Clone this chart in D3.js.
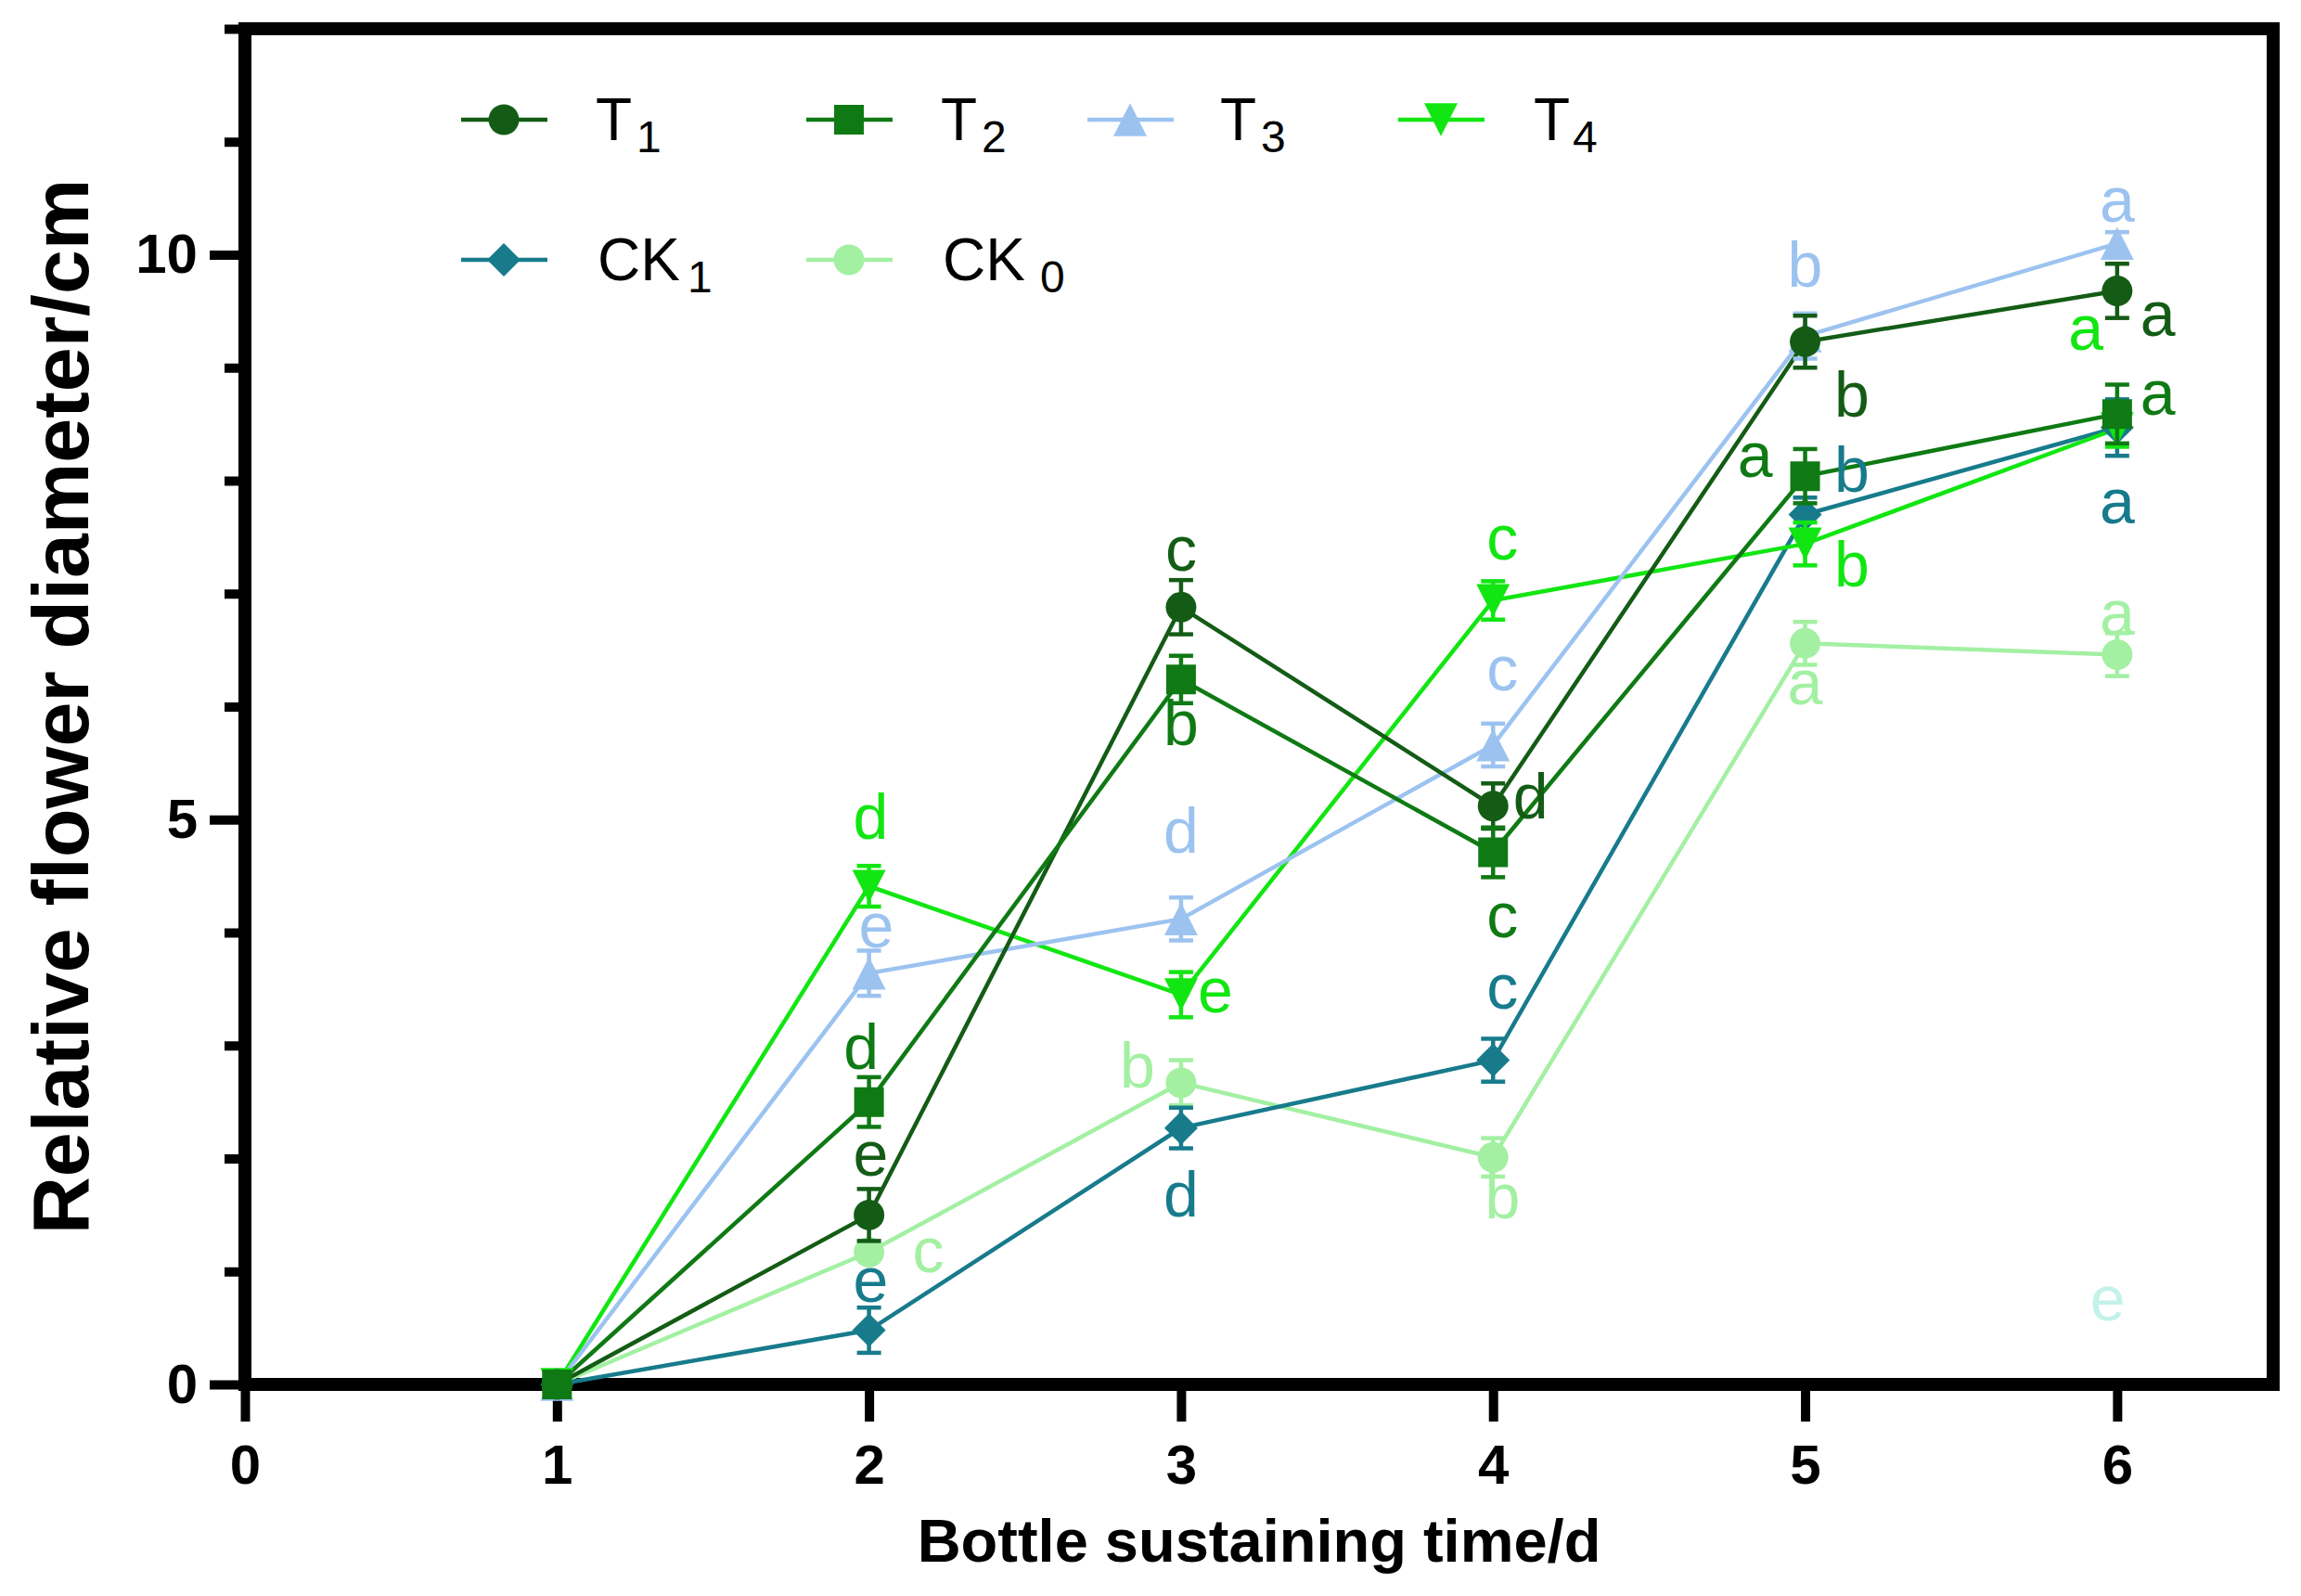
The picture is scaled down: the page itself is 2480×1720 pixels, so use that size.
<!DOCTYPE html>
<html><head><meta charset="utf-8">
<script src="https://cdn.jsdelivr.net/npm/d3@7"></script>
<style>html,body{margin:0;padding:0;background:#fff}</style>
</head><body>
<svg id="chart" width="2480" height="1720"></svg>
<script>
// ---------------- data ----------------
const days = [1, 2, 3, 4, 5, 6];
const seriesNames = ["T1", "T2", "T3", "T4", "CK1", "CK0"];
const T1  = [0, 1.50, 6.88, 5.12, 9.23, 9.68];
const T2  = [0, 2.50, 6.24, 4.71, 8.04, 8.59];
const T3  = [0, 3.64, 4.12, 5.66, 9.28, 10.10];
const T4  = [0, 4.41, 3.45, 6.94, 7.44, 8.46];
const CK1 = [0, 0.48, 2.27, 2.87, 7.70, 8.47];
const CK0 = [0, 1.17, 2.67, 2.01, 6.56, 6.46];
const T1_err  = [0, 0.23, 0.24, 0.20, 0.23, 0.24];
const T2_err  = [0, 0.22, 0.21, 0.22, 0.24, 0.26];
const T3_err  = [0, 0.20, 0.19, 0.19, 0.20, 0.10];
const T4_err  = [0, 0.18, 0.20, 0.17, 0.19, 0.16];
const CK1_err = [0, 0.20, 0.18, 0.19, 0.15, 0.25];
const CK0_err = [0, 0.05, 0.20, 0.17, 0.19, 0.19];
const xTicks = [0, 1, 2, 3, 4, 5, 6];
const yMajorTicks = [0, 5, 10];
const yMinorTicks = [1, 2, 3, 4, 6, 7, 8, 9, 11, 12];
const xTitle = "Bottle sustaining time/d";
const yTitle = "Relative flower diameter/cm";
// significance letters: series, day position, value position, letter
const letterSeries = ["T4","T3","T2","T1","CK0","CK1",
                      "T1","T2","T3","T4","CK0","CK1",
                      "T4","T3","T1","T2","CK1","CK0",
                      "T3","T1","T2","CK1","T4","CK0",
                      "T3","T1","T4","T2","CK1","CK0","extra"];
const letterDay = [2.005,2.023,1.975,2.005,2.19,2.005,
                   3.0,3.0,3.0,3.11,2.86,3.0,
                   4.03,4.03,4.12,4.03,4.03,4.03,
                   5.0,5.15,4.84,5.15,5.15,5.0,
                   6.0,6.13,5.90,6.13,6.0,6.0,5.97];
const letterValue = [4.83,3.87,2.79,1.85,0.99,0.73,
                     7.20,5.66,4.71,3.29,2.63,1.49,
                     7.30,6.14,5.01,3.96,3.33,1.47,
                     9.72,8.57,8.03,7.90,7.06,6.02,
                     10.29,9.28,9.16,8.58,7.62,6.64,0.57];
const letterText = ["d","e","d","e","c","e",
                    "c","b","d","e","b","d",
                    "c","c","d","c","c","b",
                    "b","b","a","b","b","a",
                    "a","a","a","a","a","a","e"];

// ---------------- styles ----------------
const colors = {T1:"#145c16", T2:"#0f7a14", T3:"#9cc3f0", T4:"#12e612",
                CK1:"#177b8c", CK0:"#a3f0a3", extra:"#c4f2ea"};
const shapes = {T1:"circle", T2:"square", T3:"up", T4:"down", CK1:"diamond", CK0:"circle"};
const values = {T1, T2, T3, T4, CK1, CK0};
const errors = {T1:T1_err, T2:T2_err, T3:T3_err, T4:T4_err, CK1:CK1_err, CK0:CK0_err};
const drawOrder = ["CK0","CK1","T4","T3","T1","T2"];
const FONT = "'Liberation Sans', Arial, Helvetica, sans-serif";

const svg = d3.select("#chart");
svg.append("rect").attr("width",2480).attr("height",1720).attr("fill","#fff");

const x = d3.scaleLinear().domain([0, 6.5]).range([264, 2450]);
const y = d3.scaleLinear().domain([0, 12]).range([1492, 31]);

// custom symbol types
const symTypes = {
  circle: d3.symbolCircle,
  square: d3.symbolSquare,
  up: {draw(c, s){ const w=Math.sqrt(s), h=w*0.98; c.moveTo(0,-h/2); c.lineTo(w/2,h/2); c.lineTo(-w/2,h/2); c.closePath(); }},
  down: {draw(c, s){ const w=Math.sqrt(s), h=w*0.98; c.moveTo(0,h/2); c.lineTo(w/2,-h/2); c.lineTo(-w/2,-h/2); c.closePath(); }},
  diamond: {draw(c, s){ const w=Math.sqrt(s)/2; c.moveTo(0,-w); c.lineTo(w,0); c.lineTo(0,w); c.lineTo(-w,0); c.closePath(); }}
};
const symSize = {circle: Math.PI*16.5*16.5, square: 32*32, up: 36*36, down: 36*36, diamond: 36*36};
function symbolPath(shape){ return d3.symbol().type(symTypes[shape]).size(symSize[shape])(); }

// ---------------- axes ----------------
const axG = svg.append("g");
const yMajor = axG.append("g").attr("transform","translate(264,0)")
  .call(d3.axisLeft(y).tickValues(yMajorTicks).tickSize(38).tickPadding(13).tickFormat(d3.format("d")));
const yMinor = axG.append("g").attr("transform","translate(264,0)")
  .call(d3.axisLeft(y).tickValues(yMinorTicks).tickSize(22).tickFormat(""));
const xAx = axG.append("g").attr("transform","translate(0,1492)")
  .call(d3.axisBottom(x).tickValues(xTicks).tickSize(40).tickPadding(24).tickFormat(d3.format("d")));
[yMajor, yMinor, xAx].forEach(g => {
  g.select(".domain").remove();
  g.selectAll(".tick line").attr("stroke","#000").attr("stroke-width",10);
  g.selectAll(".tick text").attr("fill","#000").style("font-family",FONT)
    .style("font-weight","bold").style("font-size","60px");
});
// frame
axG.append("rect").attr("x",x(0)).attr("y",y(12)).attr("width",x(6.5)-x(0)).attr("height",y(0)-y(12))
  .attr("fill","none").attr("stroke","#000").attr("stroke-width",14);

// titles
svg.append("text").attr("x",(x(0)+x(6.5))/2).attr("y",1683).attr("text-anchor","middle")
  .style("font-family",FONT).style("font-weight","bold").style("font-size","65px").text(xTitle);
svg.append("text").attr("transform",`translate(95,${(y(0)+y(12))/2}) rotate(-90)`).attr("text-anchor","middle")
  .style("font-family",FONT).style("font-weight","bold").style("font-size","86px").text(yTitle);

// ---------------- series ----------------
const plot = svg.append("g");
const line = d3.line().x((d,i)=>x(days[i])).y(d=>y(d));
drawOrder.forEach(name => {
  plot.append("path").datum(values[name]).attr("d", line)
    .attr("fill","none").attr("stroke",colors[name]).attr("stroke-width",4.5);
});
drawOrder.forEach(name => {
  const g = plot.append("g");
  const vals = values[name], errs = errors[name];
  days.forEach((d,i) => {
    if (errs[i] > 0) {
      const x0 = x(d), yt = y(vals[i]+errs[i]), yb = y(vals[i]-errs[i]);
      g.append("line").attr("x1",x0).attr("x2",x0).attr("y1",yt).attr("y2",yb)
        .attr("stroke",colors[name]).attr("stroke-width",4.5);
      [yt, yb].forEach(yy => g.append("line").attr("x1",x0-13).attr("x2",x0+13).attr("y1",yy).attr("y2",yy)
        .attr("stroke",colors[name]).attr("stroke-width",4.5));
    }
  });
  g.selectAll("path.m").data(vals).enter().append("path").attr("class","m")
    .attr("d", symbolPath(shapes[name]))
    .attr("transform",(v,i)=>`translate(${x(days[i])},${y(v)})`)
    .attr("fill",colors[name]);
});

// letters
const lg = svg.append("g");
letterText.forEach((t,i) => {
  lg.append("text").attr("x", x(letterDay[i])).attr("y", y(letterValue[i]))
    .attr("text-anchor","middle").attr("fill", colors[letterSeries[i]])
    .style("font-family",FONT).style("font-size","68px").text(t);
});

// ---------------- legend ----------------
const legendItems = [
  {name:"T1", main:"T", sub:"1", mx:543, tx:642, yy:129, sdx:5},
  {name:"T2", main:"T", sub:"2", mx:915, tx:1014, yy:129, sdx:5},
  {name:"T3", main:"T", sub:"3", mx:1218, tx:1315, yy:129, sdx:5},
  {name:"T4", main:"T", sub:"4", mx:1553, tx:1653, yy:129, sdx:3},
  {name:"CK1", main:"CK", sub:"1", mx:543, tx:644, yy:280, sdx:8},
  {name:"CK0", main:"CK", sub:"0", mx:915, tx:1016, yy:280, sdx:16}
];
const leg = svg.append("g");
legendItems.forEach(it => {
  leg.append("line").attr("x1",it.mx-46).attr("x2",it.mx+47).attr("y1",it.yy).attr("y2",it.yy)
    .attr("stroke",colors[it.name]).attr("stroke-width",4.5);
  leg.append("path").attr("d",symbolPath(shapes[it.name])).attr("transform",`translate(${it.mx},${it.yy})`)
    .attr("fill",colors[it.name]);
  const t = leg.append("text").attr("x",it.tx).attr("y",it.yy+22)
    .style("font-family",FONT).style("font-size","64px").attr("fill","#000");
  t.append("tspan").text(it.main);
  t.append("tspan").attr("dx",it.sdx).attr("dy",13).style("font-size","48px").text(it.sub);
});
</script>
</body></html>
